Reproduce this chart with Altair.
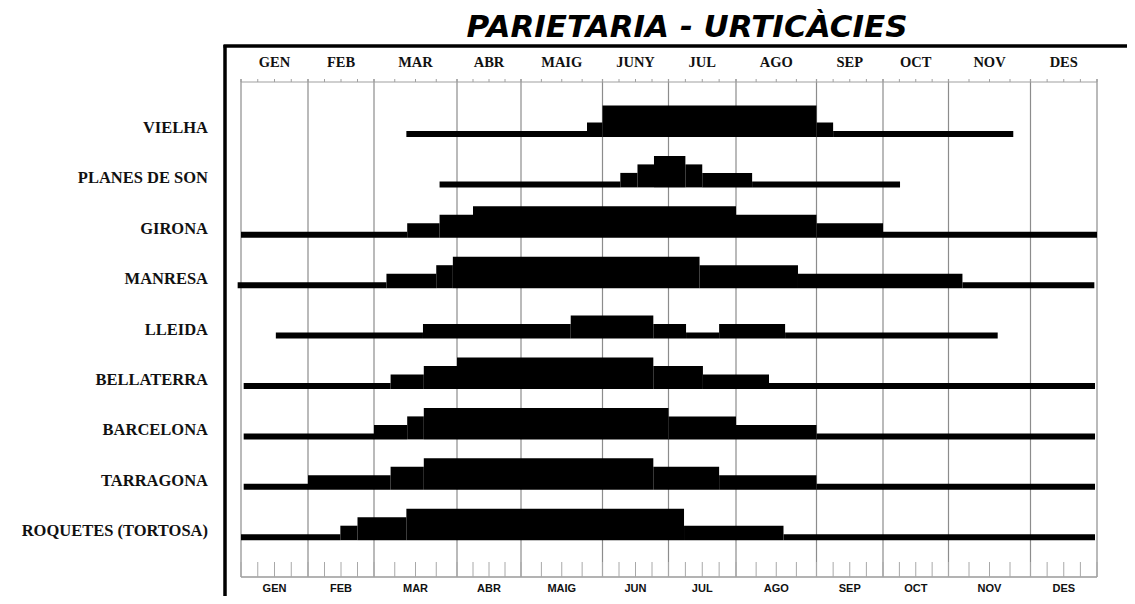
import altair as alt
import pandas as pd

TITLE = "PARIETARIA - URTICÀCIES"
MONTHS_TOP = ["GEN", "FEB", "MAR", "ABR", "MAIG", "JUNY", "JUL", "AGO", "SEP", "OCT", "NOV", "DES"]
MONTHS_BOTTOM = ["GEN", "FEB", "MAR", "ABR", "MAIG", "JUN", "JUL", "AGO", "SEP", "OCT", "NOV", "DES"]
STATIONS = ["VIELHA", "PLANES DE SON", "GIRONA", "MANRESA", "LLEIDA",
            "BELLATERRA", "BARCELONA", "TARRAGONA", "ROQUETES (TORTOSA)"]

# breakpoints in months (0 = start of January, 12 = end of December) and level of each interval
VIELHA_EDGES = [2.39, 4.81, 5.0, 8.0, 8.25, 10.79]
VIELHA_LEVELS = [0, 1, 3, 1, 0]
PLANES_EDGES = [2.79, 5.27, 5.53, 5.78, 6.25, 6.50, 7.20, 9.26]
PLANES_LEVELS = [0, 1, 2, 3, 2, 1, 0]
GIRONA_EDGES = [0.0, 2.40, 2.79, 3.25, 7.0, 8.0, 9.0, 12.0]
GIRONA_LEVELS = [0, 1, 2, 3, 2, 1, 0]
MANRESA_EDGES = [-0.05, 2.15, 2.75, 2.95, 6.46, 7.77, 10.17, 11.96]
MANRESA_LEVELS = [0, 1, 2, 3, 2, 1, 0]
LLEIDA_EDGES = [0.52, 2.59, 4.61, 5.77, 6.26, 6.75, 7.61, 10.60]
LLEIDA_LEVELS = [0, 1, 2, 1, 0, 1, 0]
BELLATERRA_EDGES = [0.04, 2.20, 2.60, 3.0, 5.77, 6.51, 7.41, 11.97]
BELLATERRA_LEVELS = [0, 1, 2, 3, 2, 1, 0]
BARCELONA_EDGES = [0.04, 2.0, 2.40, 2.60, 6.0, 7.0, 8.0, 11.97]
BARCELONA_LEVELS = [0, 1, 2, 3, 2, 1, 0]
TARRAGONA_EDGES = [0.04, 1.0, 2.20, 2.60, 5.77, 6.75, 8.0, 11.97]
TARRAGONA_LEVELS = [0, 1, 2, 3, 2, 1, 0]
ROQUETES_EDGES = [0.0, 1.49, 1.75, 2.39, 6.23, 7.59, 11.97]
ROQUETES_LEVELS = [0, 1, 2, 3, 1, 0]

PROFILES = [
    (VIELHA_EDGES, VIELHA_LEVELS), (PLANES_EDGES, PLANES_LEVELS),
    (GIRONA_EDGES, GIRONA_LEVELS), (MANRESA_EDGES, MANRESA_LEVELS),
    (LLEIDA_EDGES, LLEIDA_LEVELS), (BELLATERRA_EDGES, BELLATERRA_LEVELS),
    (BARCELONA_EDGES, BARCELONA_LEVELS), (TARRAGONA_EDGES, TARRAGONA_LEVELS),
    (ROQUETES_EDGES, ROQUETES_LEVELS),
]

# ---- layout (pixels inside plot area) ----
W, H = 902, 551
FIRST_ROW = 89.0     # centre of the first baseline band
ROW_GAP = 50.4
BAND_HALF = 3.0
LEVEL_STEP = 8.5
GRID_TOP, GRID_BOTTOM = 37, 532

X_SCALE = alt.Scale(domain=list(range(13)),
                    range=[16, 83, 149, 232, 296, 377.5, 443.5, 511, 591.5, 658, 723.5, 805.5, 872])
Y_SCALE = alt.Scale(domain=[0, H], reverse=True, nice=False, zero=False)

rows = []
for i, (edges, levels) in enumerate(PROFILES):
    c = FIRST_ROW + i * ROW_GAP
    for a, b, lv in zip(edges[:-1], edges[1:], levels):
        rows.append({"station": STATIONS[i], "start": a, "end": b, "level": lv,
                     "y0": c + BAND_HALF, "y1": c - BAND_HALF - lv * LEVEL_STEP})
seg = pd.DataFrame(rows)

labels = pd.DataFrame({"station": STATIONS,
                       "y": [FIRST_ROW + i * ROW_GAP - 6 for i in range(len(STATIONS))]})
months = pd.DataFrame({"top": MONTHS_TOP, "bottom": MONTHS_BOTTOM,
                       "mid": [m + 0.5 for m in range(12)]})
bounds = pd.DataFrame({"m": list(range(13))})
quarters = pd.DataFrame({"q": [k / 4 for k in range(49)]})
axisline = pd.DataFrame({"a": [0], "b": [12]})

X = lambda f: alt.X(f, type="quantitative", scale=X_SCALE, axis=None)
Y = lambda f: alt.Y(f, type="quantitative", scale=Y_SCALE, axis=None)

grid = alt.Chart(bounds).mark_rule(color="#8c8c8c", strokeWidth=1.2).encode(
    x=X("m:Q"), y=alt.value(GRID_TOP - 3), y2=alt.value(GRID_BOTTOM))

top_line = alt.Chart(axisline).mark_rule(color="#a0a0a0", strokeWidth=1.2).encode(
    x=X("a:Q"), x2="b:Q", y=alt.value(GRID_TOP))
top_ticks = alt.Chart(quarters).mark_rule(color="#a0a0a0", strokeWidth=1).encode(
    x=X("q:Q"), y=alt.value(GRID_TOP - 3), y2=alt.value(GRID_TOP))

bot_line = alt.Chart(axisline).mark_rule(color="#9a9a9a", strokeWidth=1.5).encode(
    x=X("a:Q"), x2="b:Q", y=alt.value(GRID_BOTTOM))
bot_ticks = alt.Chart(quarters).mark_rule(color="#a8a8a8", strokeWidth=1).encode(
    x=X("q:Q"), y=alt.value(GRID_BOTTOM - 15), y2=alt.value(GRID_BOTTOM))

bars = alt.Chart(seg).mark_rect(color="black").encode(
    x=X("start:Q"), x2="end:Q", y=Y("y0:Q"), y2="y1:Q")

station_text = alt.Chart(labels).mark_text(
    align="right", baseline="middle", font="Liberation Serif", fontWeight="bold",
    fontSize=16.5, color="#111").encode(x=alt.value(-17), y=Y("y:Q"), text="station:N")

top_text = alt.Chart(months).mark_text(
    align="center", baseline="middle", font="Liberation Serif", fontWeight="bold",
    fontSize=14.5, color="#111").encode(x=X("mid:Q"), y=alt.value(18), text="top:N")

bot_text = alt.Chart(months).mark_text(
    align="center", baseline="middle", font="Liberation Sans", fontWeight="bold",
    fontSize=11, color="#111").encode(x=X("mid:Q"), y=alt.value(544), text="bottom:N")

title = alt.Chart(pd.DataFrame({"t": [TITLE]})).mark_text(
    align="center", baseline="alphabetic", font="DejaVu Sans", fontWeight="bold",
    fontStyle="italic", fontSize=31, color="#000").encode(
    x=alt.value(462), y=alt.value(-8), text="t:N")

frame_top = alt.Chart(axisline).mark_rule(color="black", strokeWidth=3.5).encode(
    x=alt.value(-1.5), x2=alt.value(W), y=alt.value(1))
frame_left = alt.Chart(axisline).mark_rule(color="black", strokeWidth=3.5).encode(
    x=alt.value(0), y=alt.value(0), y2=alt.value(H))

chart = alt.layer(
    grid, top_line, top_ticks, bot_line, bot_ticks, bars,
    station_text, top_text, bot_text, title, frame_top, frame_left
).properties(
    width=W, height=H,
    autosize=alt.AutoSizeParams(type="none"),
    padding={"left": 217, "top": 37, "right": 0, "bottom": 0},
).configure_view(stroke=None).configure(background="white")

chart.save("out.html", embed_options={"renderer": "svg", "actions": False})
